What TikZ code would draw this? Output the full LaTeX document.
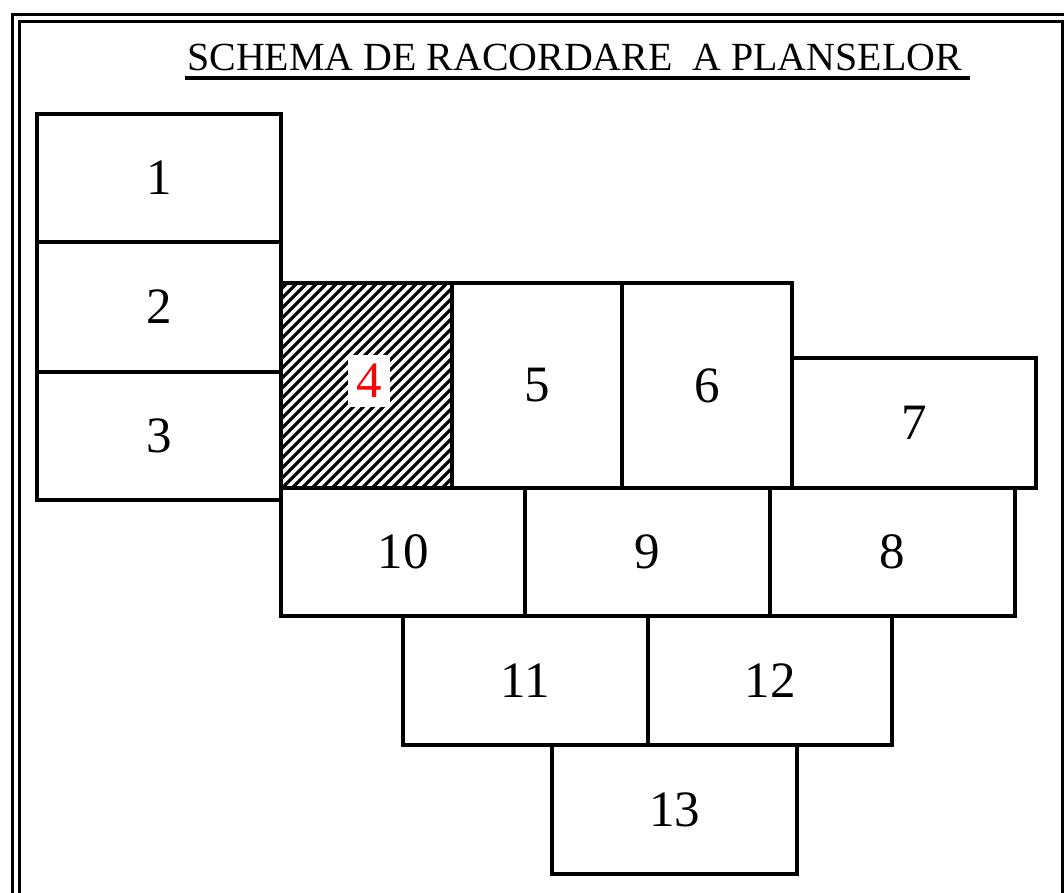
\documentclass[tikz,border=0pt]{standalone}
\usepackage{fontspec}
\setmainfont{Liberation Serif}
\begin{document}
\begin{tikzpicture}[x=1pt,y=-1pt,
  panel/.style={draw, line width=3.5pt, inner sep=0pt, font=\fontsize{51}{60}\selectfont},
  frameline/.style={line width=3pt},
  hatchline/.style={line width=3.2pt},
  titletext/.style={anchor=base west, inner sep=0pt, font=\fontsize{39.9}{48}\selectfont}]
\useasboundingbox (0,0) rectangle (1064,892);
\fill[white] (0,0) rectangle (1064,892);
% frame
\begin{scope}
\clip (0,0) rectangle (1064,892);
\draw[frameline] (12.5,14.5) rectangle (1069,905);
\draw[frameline] (19.5,21) rectangle (1062,898);
\end{scope}
% title
\node[titletext] (title) at (187,70) {SCHEMA DE RACORDARE\ \ A PLANSELOR};
\draw[line width=3.2pt] (185,78) -- (970,78);
% hatching of panel 4
\begin{scope}
\clip (281,283) rectangle (452,488);
\foreach \k in {560,570,...,950} \draw[hatchline] ({\k-500},500) -- ({\k-270},270);
\end{scope}
\node[fill=white, text=red, inner xsep=8pt, inner ysep=9pt, font=\fontsize{51}{60}\selectfont] (l4) at (369,381) {4};
% panels
\node[panel, minimum width=244pt, minimum height=128pt] (p1) at (159,178) {1};
\node[panel, minimum width=244pt, minimum height=130pt] (p2) at (159,307) {2};
\node[panel, minimum width=244pt, minimum height=128pt] (p3) at (159,436) {3};
\node[panel, minimum width=171pt, minimum height=205pt] (p4) at (366.5,385.5) {};
\node[panel, minimum width=170pt, minimum height=205pt] (p5) at (537,385.5) {5};
\node[panel, minimum width=170pt, minimum height=205pt] (p6) at (707,385.5) {6};
\node[panel, minimum width=244pt, minimum height=130pt] (p7) at (914,423) {7};
\node[panel, minimum width=244pt, minimum height=128pt] (p10) at (403,552) {10};
\node[panel, minimum width=245pt, minimum height=128pt] (p9) at (647.5,552) {9};
\node[panel, minimum width=245pt, minimum height=128pt] (p8) at (892.5,552) {8};
\node[panel, minimum width=245pt, minimum height=129pt] (p11) at (525.5,680.5) {11};
\node[panel, minimum width=244pt, minimum height=129pt] (p12) at (770,680.5) {12};
\node[panel, minimum width=245pt, minimum height=129pt] (p13) at (674.5,809.5) {13};
\end{tikzpicture}
\end{document}
